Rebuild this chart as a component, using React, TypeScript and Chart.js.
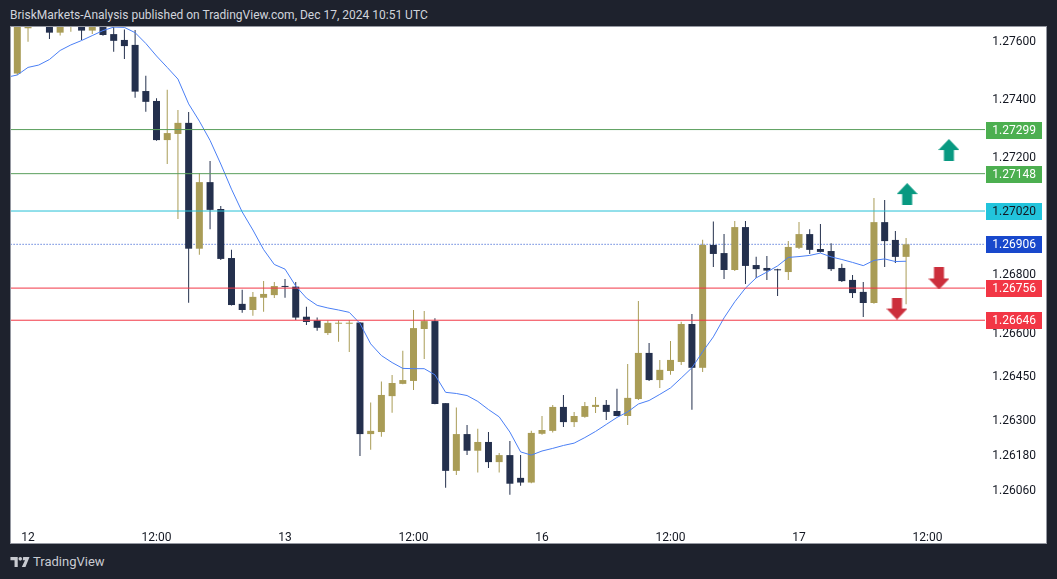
import React, { useEffect, useRef } from "react";
import { Chart, registerables } from "chart.js";

Chart.register(...registerables);

// ---- Data (1H candles, index 0 = Dec 11 23:00) ----
const opens = [
  1.27491, 1.27646, 1.2767, 1.27665, 1.27631, 1.2766, 1.27665, 1.27638, 1.27658, 1.27626,
  1.27606, 1.27589, 1.27431, 1.27397, 1.27263, 1.27284, 1.27322, 1.26891, 1.27119, 1.27027,
  1.26859, 1.26702, 1.26681, 1.26723, 1.26732, 1.26761, 1.26761, 1.26658, 1.26645, 1.26602,
  1.26634, 1.26634, 1.26638, 1.26256, 1.26263, 1.26386, 1.26428, 1.26438, 1.26616, 1.26643,
  1.26362, 1.2613, 1.26256, 1.26199, 1.26229, 1.2616, 1.26184, 1.26106, 1.2609, 1.26257,
  1.26267, 1.26349, 1.26297, 1.26315, 1.26349, 1.26356, 1.26335, 1.26318, 1.26376, 1.26534,
  1.26441, 1.26472, 1.26503, 1.26633, 1.26483, 1.26904, 1.26876, 1.26818, 1.26965, 1.26835,
  1.26825, 1.26818, 1.26811, 1.26894, 1.26941, 1.2689, 1.26883, 1.26825, 1.26784, 1.26743,
  1.26705, 1.26982, 1.26921, 1.26863,
];
const highs = [
  1.27674, 1.2767, 1.27695, 1.2768, 1.27675, 1.2769, 1.2768, 1.27672, 1.2767, 1.27654,
  1.27642, 1.2764, 1.27483, 1.27406, 1.27435, 1.27366, 1.27359, 1.27149, 1.27191, 1.27037,
  1.26887, 1.2675, 1.26743, 1.2678, 1.26777, 1.26787, 1.26777, 1.26692, 1.26655, 1.26645,
  1.26646, 1.26646, 1.2664, 1.26364, 1.26436, 1.26458, 1.26541, 1.26681, 1.26678, 1.26653,
  1.26362, 1.26347, 1.26287, 1.26274, 1.26263, 1.26191, 1.26232, 1.26184, 1.26267, 1.26318,
  1.26356, 1.2639, 1.26332, 1.26366, 1.26383, 1.26373, 1.26411, 1.26496, 1.26712, 1.26568,
  1.2651, 1.26575, 1.26641, 1.26667, 1.26922, 1.26984, 1.26941, 1.26986, 1.26986, 1.26863,
  1.26866, 1.26822, 1.26917, 1.26982, 1.26958, 1.26976, 1.2691, 1.26839, 1.26801, 1.26777,
  1.27065, 1.27058, 1.26952, 1.26928,
];
const lows = [
  1.27486, 1.276, 1.27658, 1.27609, 1.27621, 1.27634, 1.27606, 1.27626, 1.2762, 1.27566,
  1.27541, 1.27408, 1.2736, 1.27261, 1.27181, 1.26993, 1.26706, 1.2687, 1.26958, 1.26852,
  1.26696, 1.26672, 1.26661, 1.26675, 1.26722, 1.26723, 1.26647, 1.2663, 1.2661, 1.26595,
  1.26572, 1.26537, 1.26181, 1.26202, 1.26247, 1.26329, 1.26427, 1.26407, 1.26513, 1.26358,
  1.26072, 1.26116, 1.26184, 1.26124, 1.2614, 1.26124, 1.26048, 1.26079, 1.26088, 1.26254,
  1.26261, 1.2628, 1.2628, 1.26312, 1.26328, 1.26304, 1.26317, 1.26287, 1.26373, 1.26438,
  1.26414, 1.26459, 1.26493, 1.26339, 1.26469, 1.26828, 1.26787, 1.26815, 1.2677, 1.26791,
  1.26784, 1.26729, 1.26784, 1.2689, 1.26873, 1.26878, 1.26815, 1.26777, 1.26722, 1.26657,
  1.26702, 1.26828, 1.26842, 1.26701,
];
const closes = [
  1.27661, 1.27661, 1.27685, 1.27631, 1.2766, 1.27675, 1.27638, 1.2766, 1.27623, 1.27603,
  1.27585, 1.27429, 1.27394, 1.27263, 1.27287, 1.27322, 1.26891, 1.27119, 1.27024, 1.26856,
  1.26698, 1.26681, 1.26726, 1.26736, 1.26763, 1.2676, 1.26655, 1.2664, 1.2662, 1.26637,
  1.26637, 1.26637, 1.26256, 1.26267, 1.2639, 1.26431, 1.26441, 1.26619, 1.26643, 1.26359,
  1.2613, 1.26256, 1.26199, 1.26229, 1.2616, 1.26184, 1.26086, 1.2609, 1.2626, 1.2627,
  1.26349, 1.26297, 1.26318, 1.26352, 1.26356, 1.26332, 1.26318, 1.2638, 1.26534, 1.26441,
  1.26476, 1.2651, 1.26633, 1.26483, 1.26904, 1.26873, 1.26818, 1.26965, 1.26832, 1.26821,
  1.26816, 1.26817, 1.26897, 1.26941, 1.26887, 1.2688, 1.26821, 1.2678, 1.26739, 1.26705,
  1.26982, 1.26917, 1.26863, 1.26906,
];

// Moving average, first value belongs to candle index -1
const emaStartIndex = -1;
const emaValues = [
  1.27478,
  1.27486, 1.27512, 1.2752, 1.27539, 1.2757, 1.27589, 1.27604, 1.27621, 1.27638, 1.2765,
  1.27649, 1.27631, 1.27594, 1.27551, 1.27512, 1.27472, 1.27387, 1.27328, 1.27262, 1.27181,
  1.27095, 1.27017, 1.26955, 1.26888, 1.26837, 1.26821, 1.26763, 1.26722, 1.26697, 1.26688,
  1.26681, 1.26673, 1.26635, 1.26565, 1.26525, 1.26501, 1.26481, 1.2648, 1.2648, 1.26459,
  1.26399, 1.26395, 1.26388, 1.26368, 1.2634, 1.26315, 1.26263, 1.26195, 1.26184, 1.26198,
  1.26207, 1.26217, 1.26225, 1.26244, 1.26265, 1.26289, 1.26313, 1.26332, 1.26359, 1.26371,
  1.26392, 1.26414, 1.26448, 1.26483, 1.26538, 1.26589, 1.26654, 1.26709, 1.26756, 1.26791,
  1.26811, 1.26832, 1.26861, 1.26864, 1.26868, 1.26876, 1.26863, 1.26854, 1.26844, 1.26833,
  1.26851, 1.26856, 1.26847, 1.26848,
];

const timeTickIndex = [1, 13, 25, 37, 49, 61, 73, 85];
const timeTickLabels = ["12", "12:00", "13", "12:00", "16", "12:00", "17", "12:00"];
const priceTicks = [1.276, 1.274, 1.272, 1.27, 1.268, 1.266, 1.2645, 1.263, 1.2618, 1.2606];

const levelValues = [1.27299, 1.27148, 1.2702, 1.26906, 1.26756, 1.26646];

const upArrowIndex = [87.0, 83.1];
const upArrowPrice = [1.27229, 1.27078];
const downArrowIndex = [86.07, 82.15];
const downArrowPrice = [1.26789, 1.26686];

// ---- Styles ----
const X_MIN = -0.59;
const X_MAX = 90.37;
const Y_MIN = 1.2597883;
const Y_MAX = 1.2765035;
const UP = "#a99c56";
const DOWN = "#24304d";
const LEVEL_LINE = ["#5a9e5c", "#5a9e5c", "#26c0d6", "#1848cc", "#f23645", "#f23645"];
const LEVEL_BOX = ["#4caf50", "#4caf50", "#22c4dc", "#1848cc", "#f23645", "#f23645"];
const LEVEL_TEXT = ["#ffffff", "#ffffff", "#131722", "#ffffff", "#ffffff", "#ffffff"];
const LEVEL_DASH = [[], [], [], [1, 2], [], []];
const FONT = "Roboto, 'Liberation Sans', sans-serif";

function makeArrow(up: boolean, color: string) {
  const c = document.createElement("canvas");
  c.width = 21;
  c.height = 22;
  const g = c.getContext("2d")!;
  g.fillStyle = color;
  g.beginPath();
  if (up) {
    g.moveTo(0, 11);
    g.lineTo(10.5, 0);
    g.lineTo(21, 11);
    g.lineTo(15.5, 11);
    g.lineTo(15.5, 22);
    g.lineTo(5.5, 22);
    g.lineTo(5.5, 11);
  } else {
    g.moveTo(5.5, 0);
    g.lineTo(15.5, 0);
    g.lineTo(15.5, 11);
    g.lineTo(21, 11);
    g.lineTo(10.5, 22);
    g.lineTo(0, 11);
    g.lineTo(5.5, 11);
  }
  g.closePath();
  g.fill();
  return c;
}

const priceLabelPlugin = {
  id: "priceLabels",
  afterDraw(chart: any) {
    const y = chart.scales.y;
    const ctx = chart.ctx;
    ctx.save();
    ctx.font = `12px ${FONT}`;
    ctx.textAlign = "right";
    ctx.textBaseline = "middle";
    levelValues.forEach((v, k) => {
      const py = Math.round(y.getPixelForValue(v));
      ctx.fillStyle = LEVEL_BOX[k];
      ctx.fillRect(975, py - 8, 56, 17);
      ctx.fillStyle = LEVEL_TEXT[k];
      ctx.fillText(v.toFixed(5), 1025, py + 1);
    });
    ctx.restore();
  },
};

export default function App() {
  const ref = useRef<HTMLCanvasElement>(null);

  useEffect(() => {
    const canvas = ref.current;
    if (!canvas) return;
    const idx = opens.map((_, i) => i);
    const colors = idx.map((i) => (closes[i] >= opens[i] ? UP : DOWN));
    const wickData = idx.map((i) => ({ x: i, y: [lows[i], highs[i]] }));
    const bodyData = idx.map((i) => ({
      x: i,
      y: [Math.min(opens[i], closes[i]), Math.max(opens[i], closes[i])],
    }));
    const emaData = emaValues.map((v, k) => ({ x: k + emaStartIndex, y: v }));
    const upImg = makeArrow(true, "#089981");
    const downImg = makeArrow(false, "#cc2f3c");

    const levelSets = levelValues.map((v, k) => ({
      type: "line" as const,
      data: [
        { x: X_MIN - 2, y: v },
        { x: X_MAX + 2, y: v },
      ],
      borderColor: LEVEL_LINE[k],
      borderWidth: 1,
      borderDash: LEVEL_DASH[k],
      pointRadius: 0,
      order: k === 3 ? 6 : 1,
    }));

    const chart = new Chart(canvas, {
      type: "bar",
      data: {
        datasets: [
          {
            type: "line",
            data: upArrowIndex.map((x, k) => ({ x, y: upArrowPrice[k] })),
            showLine: false,
            pointStyle: upImg as any,
            pointRadius: 10,
            order: 0,
          } as any,
          {
            type: "line",
            data: downArrowIndex.map((x, k) => ({ x, y: downArrowPrice[k] })),
            showLine: false,
            pointStyle: downImg as any,
            pointRadius: 10,
            order: 0,
          } as any,
          ...levelSets,
          {
            type: "line",
            data: emaData,
            borderColor: "#4a7ff5",
            borderWidth: 1,
            pointRadius: 0,
            tension: 0,
            order: 2,
          } as any,
          {
            type: "bar",
            data: bodyData as any,
            backgroundColor: colors,
            barThickness: 7,
            grouped: false,
            minBarLength: 1,
            borderWidth: 0,
            inflateAmount: 0,
            order: 3,
          } as any,
          {
            type: "bar",
            data: wickData as any,
            backgroundColor: colors,
            barThickness: 1,
            grouped: false,
            borderWidth: 0,
            inflateAmount: 0,
            order: 4,
          } as any,
        ],
      },
      options: {
        animation: false,
        responsive: false,
        maintainAspectRatio: false,
        layout: { autoPadding: false, padding: { left: 0, right: 10, top: 0, bottom: 0 } },
        plugins: {
          legend: { display: false },
          tooltip: { enabled: false },
          title: { display: false },
        },
        scales: {
          x: {
            type: "linear",
            min: X_MIN,
            max: X_MAX,
            offset: false,
            grid: { display: false, offset: false },
            border: { display: false },
            afterBuildTicks: (s: any) => {
              s.ticks = timeTickIndex.map((v) => ({ value: v }));
            },
            afterFit: (s: any) => {
              s.height = 28;
              s.paddingLeft = 0;
              s.paddingRight = 0;
            },
            ticks: {
              autoSkip: false,
              maxRotation: 0,
              padding: 8,
              color: "#131722",
              font: { family: FONT, size: 12 },
              callback: (v: any) => {
                const k = timeTickIndex.indexOf(Number(v));
                return k >= 0 ? timeTickLabels[k] : "";
              },
            },
          },
          y: {
            type: "linear",
            position: "right",
            min: Y_MIN,
            max: Y_MAX,
            grid: { display: false },
            border: { display: false },
            afterBuildTicks: (s: any) => {
              s.ticks = priceTicks.map((v) => ({ value: v }));
            },
            afterFit: (s: any) => {
              s.width = 51;
              s.paddingTop = 0;
              s.paddingBottom = 0;
            },
            ticks: {
              crossAlign: "far",
              color: "#131722",
              font: { family: FONT, size: 12 },
              callback: (v: any) => Number(v).toFixed(5),
            },
          },
        },
      } as any,
      plugins: [priceLabelPlugin],
    });
    return () => chart.destroy();
  }, []);

  return (
    <div
      style={{
        position: "absolute",
        left: 0,
        top: 0,
        width: 1057,
        height: 579,
        background: "#1e222d",
        overflow: "hidden",
        fontFamily: FONT,
      }}
    >
      <div
        style={{
          position: "absolute",
          left: 10,
          top: 7,
          color: "#d1d4dc",
          fontSize: 12,
          whiteSpace: "nowrap",
          lineHeight: "16px",
        }}
      >
        BriskMarkets-Analysis published on TradingView.com, Dec 17, 2024 10:51 UTC
      </div>
      <div
        style={{
          position: "absolute",
          left: 10,
          top: 26,
          width: 1035,
          height: 516,
          border: "1px solid #9598a1",
          background: "#ffffff",
        }}
      >
        <canvas ref={ref} width={1035} height={516} style={{ display: "block", width: 1035, height: 516 }} />
      </div>
      <div
        style={{
          position: "absolute",
          left: 10,
          top: 554,
          display: "flex",
          alignItems: "center",
          color: "#c9cbd1",
          fontSize: 13,
          lineHeight: "16px",
        }}
      >
        <svg width="20" height="10" viewBox="0 0 21 11" style={{ marginRight: 3 }}>
          <path d="M0 0 H8 V11 H4.5 V3.5 H0 Z" fill="#c9cbd1" />
          <circle cx="10.8" cy="2" r="2" fill="#c9cbd1" />
          <path d="M14 0 H21 L16.5 11 H12.5 L16 3.5 H13.5 Z" fill="#c9cbd1" />
        </svg>
        <span>TradingView</span>
      </div>
    </div>
  );
}
